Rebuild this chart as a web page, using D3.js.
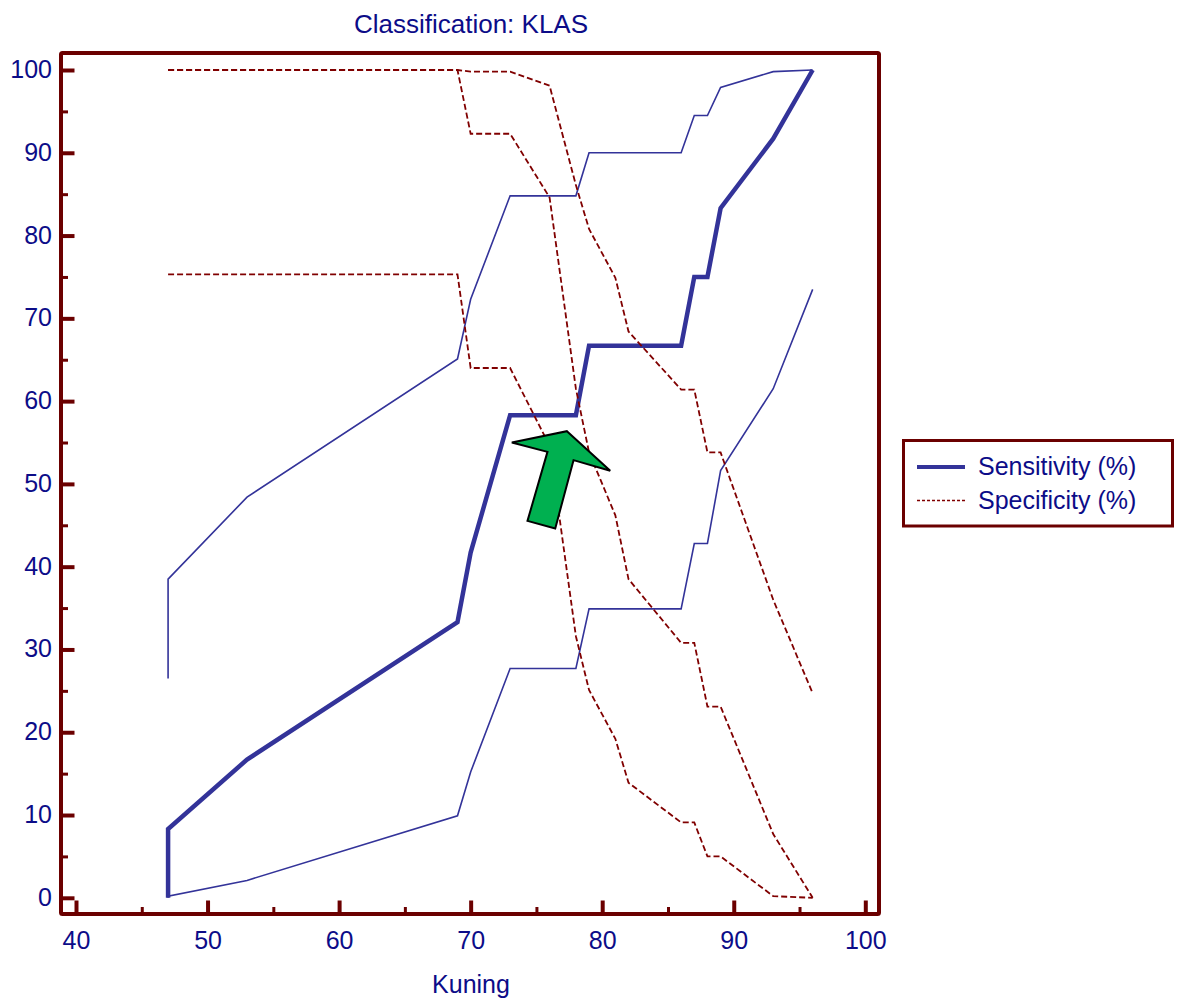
<!DOCTYPE html>
<html>
<head>
<meta charset="utf-8">
<script src="https://cdn.jsdelivr.net/npm/d3@7"></script>
<style>
  html, body { margin: 0; padding: 0; background: #ffffff; }
  svg { display: block; font-family: "Liberation Sans", Arial, sans-serif; }
</style>
</head>
<body>
<svg id="chart" width="1181" height="1003"></svg>
<script>
// Criterion values (Kuning) and the curves at each criterion
const kuning      = [47, 47, 53, 69, 70, 73, 76, 78, 79, 81, 82, 86, 87, 88, 89, 93, 96];
const sensitivity = [0, 8.3, 16.7, 33.3, 41.7, 58.3, 58.3, 58.3, 66.7, 66.7, 66.7, 66.7, 75.0, 75.0, 83.3, 91.7, 100];
const sensLower   = [0, 0.2, 2.1, 9.9, 15.2, 27.7, 27.7, 27.7, 34.9, 34.9, 34.9, 34.9, 42.8, 42.8, 51.6, 61.5, 73.5];
const sensUpper   = [26.5, 38.5, 48.4, 65.1, 72.3, 84.8, 84.8, 84.8, 90.0, 90.0, 90.0, 90.0, 94.5, 94.5, 97.9, 99.8, 100];
const specificity = [100, 100, 100, 100, 92.3, 92.3, 84.6, 61.5, 53.8, 46.2, 38.5, 30.8, 30.8, 23.1, 23.1, 7.7, 0];
const specLower   = [75.3, 75.3, 75.3, 75.3, 64.0, 64.0, 54.6, 31.6, 25.1, 19.2, 13.9, 9.1, 9.1, 5.0, 5.0, 0.2, 0];
const specUpper   = [100, 100, 100, 100, 99.8, 99.8, 98.1, 86.1, 80.8, 74.9, 68.4, 61.4, 61.4, 53.8, 53.8, 36.0, 24.7];

const xMajorTicks = [40, 50, 60, 70, 80, 90, 100];
const xMinorTicks = [45, 55, 65, 75, 85, 95];
const yMajorTicks = [0, 10, 20, 30, 40, 50, 60, 70, 80, 90, 100];
const yMinorTicks = [5, 15, 25, 35, 45, 55, 65, 75, 85, 95];

// Annotation arrow pointing at the chosen cut-off (data coordinates)
const arrowPoints = [
  [77.32, 56.37], [80.61, 51.58], [77.82, 52.87], [76.43, 44.62],
  [74.32, 45.53], [75.84, 53.87], [73.13, 55.0]
];

const titleText = "Classification: KLAS";
const xTitle = "Kuning";
const legendItems = ["Sensitivity (%)", "Specificity (%)"];

// ---- layout ----
const frame = { left: 61, right: 879, top: 53, bottom: 914 };
const frameColor = "#6b0000";
const textColor = "#0c0c88";
const sensColor = "#333399";
const specColor = "#800000";
const fontSize = 25;

const svg = d3.select("#chart");

const x = d3.scaleLinear().domain([40, 100]).range([76, 865.3]);
const y = d3.scaleLinear().domain([0, 100]).range([897.8, 70]);

// Title
svg.append("text")
  .attr("x", (frame.left + frame.right) / 2 + 1)
  .attr("y", 33)
  .attr("text-anchor", "middle")
  .attr("font-size", 26)
  .attr("fill", textColor)
  .text(titleText);

// Axis title
svg.append("text")
  .attr("x", (frame.left + frame.right) / 2 + 1)
  .attr("y", 993)
  .attr("text-anchor", "middle")
  .attr("font-size", fontSize)
  .attr("fill", textColor)
  .text(xTitle);

// Series
const plot = svg.append("g");
const idx = d3.range(kuning.length);
function lineFor(values) {
  return d3.line().x(i => x(kuning[i])).y(i => y(values[i]))(idx);
}

plot.append("path").attr("d", lineFor(sensUpper))
  .attr("fill", "none").attr("stroke", sensColor).attr("stroke-width", 1.6);
plot.append("path").attr("d", lineFor(sensLower))
  .attr("fill", "none").attr("stroke", sensColor).attr("stroke-width", 1.6);
plot.append("path").attr("d", lineFor(sensitivity))
  .attr("fill", "none").attr("stroke", sensColor).attr("stroke-width", 4.5)
  .attr("stroke-linejoin", "miter");

[specUpper, specificity, specLower].forEach(vals => {
  plot.append("path").attr("d", lineFor(vals))
    .attr("fill", "none").attr("stroke", specColor).attr("stroke-width", 1.8)
    .attr("stroke-dasharray", "6,3");
});

// Arrow annotation
plot.append("polygon")
  .attr("points", arrowPoints.map(p => [x(p[0]), y(p[1])].join(",")).join(" "))
  .attr("fill", "#00b050")
  .attr("stroke", "#000000")
  .attr("stroke-width", 2)
  .attr("stroke-linejoin", "miter");

// Axes: ticks pointing into the frame
function styleAxis(g, width) {
  g.select(".domain").remove();
  g.selectAll(".tick line").attr("stroke", frameColor).attr("stroke-width", width);
  g.selectAll(".tick text").attr("fill", textColor).attr("font-size", fontSize)
    .attr("font-family", "Liberation Sans, Arial, sans-serif");
}

svg.append("g")
  .attr("transform", `translate(${frame.left},0)`)
  .call(d3.axisLeft(y).tickValues(yMajorTicks).tickSize(-13.5).tickPadding(9).tickFormat(d3.format("d")))
  .call(g => styleAxis(g, 4))
  .call(g => g.selectAll(".tick text").attr("dy", "0.3em"));

svg.append("g")
  .attr("transform", `translate(${frame.left},0)`)
  .call(d3.axisLeft(y).tickValues(yMinorTicks).tickSize(-7).tickFormat(""))
  .call(g => styleAxis(g, 3));

svg.append("g")
  .attr("transform", `translate(0,${frame.bottom})`)
  .call(d3.axisBottom(x).tickValues(xMajorTicks).tickSize(-13.5).tickPadding(17).tickFormat(d3.format("d")))
  .call(g => styleAxis(g, 4));

svg.append("g")
  .attr("transform", `translate(0,${frame.bottom})`)
  .call(d3.axisBottom(x).tickValues(xMinorTicks).tickSize(-7).tickFormat(""))
  .call(g => styleAxis(g, 3));

// Frame
svg.append("rect")
  .attr("x", frame.left).attr("y", frame.top)
  .attr("width", frame.right - frame.left).attr("height", frame.bottom - frame.top)
  .attr("fill", "none").attr("stroke", frameColor).attr("stroke-width", 4)
  .attr("rx", 1.5);

// Legend
const legend = svg.append("g");
legend.append("rect")
  .attr("x", 903.5).attr("y", 440.5).attr("width", 269).attr("height", 85.5)
  .attr("fill", "#ffffff").attr("stroke", frameColor).attr("stroke-width", 3);

legend.append("line")
  .attr("x1", 917).attr("x2", 965).attr("y1", 467).attr("y2", 467)
  .attr("stroke", sensColor).attr("stroke-width", 4);
legend.append("line")
  .attr("x1", 917).attr("x2", 965).attr("y1", 500.5).attr("y2", 500.5)
  .attr("stroke", specColor).attr("stroke-width", 1.5).attr("stroke-dasharray", "3,2");

legendItems.forEach((t, i) => {
  legend.append("text")
    .attr("x", 978).attr("y", 475 + i * 33.5)
    .attr("font-size", fontSize)
    .attr("fill", textColor)
    .text(t);
});
</script>
</body>
</html>
